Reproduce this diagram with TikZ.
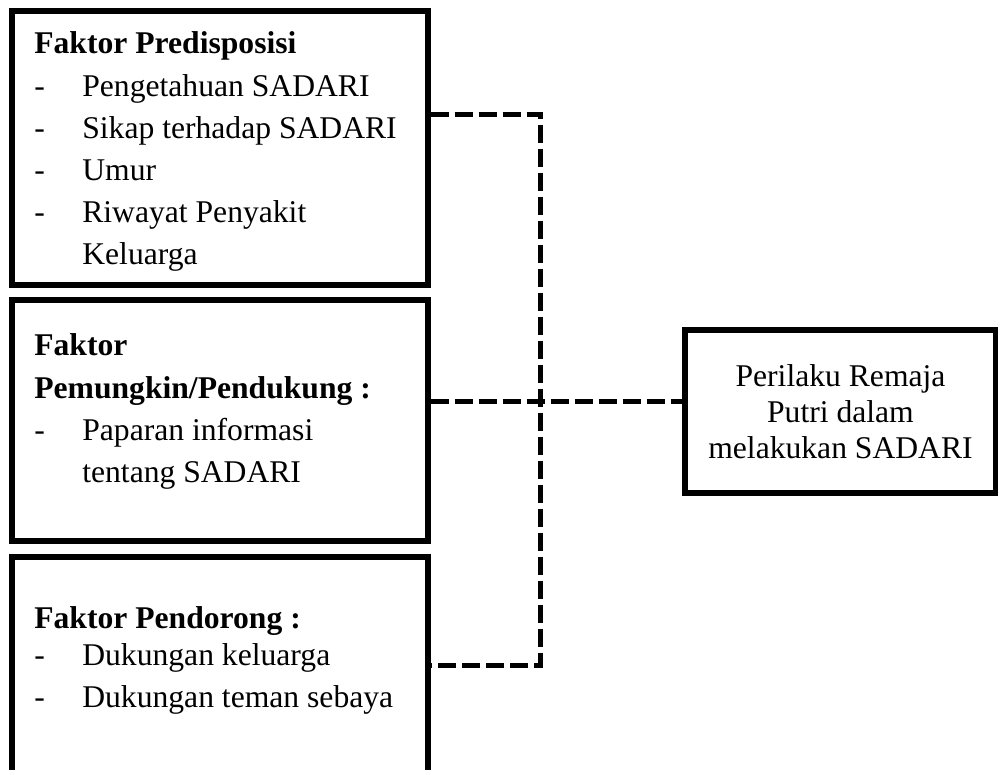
\documentclass[tikz,border=0pt]{standalone}
\usepackage{fontspec}
\setmainfont{Liberation Serif}
\usetikzlibrary{positioning}
\tikzset{
  factorbox/.style={draw, line width=0.11cm, minimum width=8.32cm, inner sep=0pt},
  resultbox/.style={draw, line width=0.11cm, minimum width=6.22cm, minimum height=3.26cm, inner sep=0pt, align=center, font=\fontsize{18}{20.5}\selectfont},
  boxtext/.style={anchor=north west, align=left, inner sep=0pt, font=\fontsize{18}{24}\selectfont},
  linkline/.style={line width=0.1cm, dash pattern=on 0.36cm off 0.12cm}
}
\newcommand{\itm}[1]{\makebox[0.96cm][l]{-}#1}

\begin{document}
\begin{tikzpicture}[x=0.02cm, y=-0.02cm]
  \useasboundingbox (0,0) rectangle (998,769);
  \clip (0,0) rectangle (998,769);
  % kotak faktor
  \node[factorbox, minimum height=5.48cm] (pre) at (220,148) {};
  \node[factorbox, minimum height=4.82cm] (pem) at (220,420.5) {};
  \node[factorbox, minimum height=4.66cm] (pen) at (220,673.5) {};
  \node[resultbox] (per) at (840.5,411.5) {Perilaku Remaja\\ Putri dalam\\ melakukan SADARI};
  % isi kotak
  \node[boxtext] (pretext) at (34,31.6) {\textbf{Faktor Predisposisi}\\ \itm{Pengetahuan SADARI}\\ \itm{Sikap terhadap SADARI}\\ \itm{Umur}\\ \itm{Riwayat Penyakit}\\ \hspace*{0.96cm}Keluarga};
  \node[boxtext] (pemtext) at (34,333.6) {\textbf{Faktor}\\ \textbf{Pemungkin/Pendukung :}\\ \itm{Paparan informasi}\\ \hspace*{0.96cm}tentang SADARI};
  \node[boxtext] (pentext) at (34,606.6) {\textbf{Faktor Pendorong :}\\[-3pt] \itm{Dukungan keluarga}\\ \itm{Dukungan teman sebaya}};
  % garis putus-putus
  \coordinate (jtop) at (540,114);
  \coordinate (jmid) at (540,401);
  \coordinate (jbot) at (540,665);
  \draw[linkline] (pre.east |- jtop) -- (jtop) -- (jbot) -- (pen.east |- jbot);
  \draw[linkline] (pem.east |- jmid) -- (per.west |- jmid);
\end{tikzpicture}
\end{document}
